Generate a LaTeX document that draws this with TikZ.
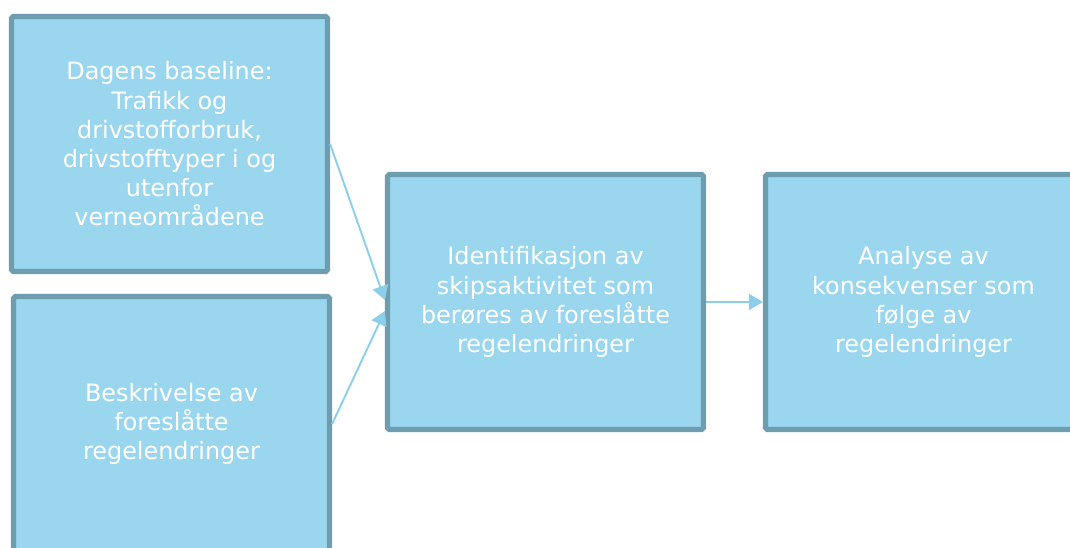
\documentclass[tikz,border=0pt]{standalone}
\usepackage{fontspec}
\setmainfont{DejaVu Sans}
\usepackage{tikz}
\usepackage{xcolor}
\usetikzlibrary{arrows.meta, positioning, calc}
\definecolor{cFill}{RGB}{154,214,238}
\definecolor{cEdge}{RGB}{110,157,176}
\definecolor{cLink}{RGB}{141,207,234}
\tikzset{
	stagebox/.style={rectangle, rounded corners=1pt, minimum width=6.32cm, minimum height=5.1cm, align=center, draw=cEdge, line width=3pt, fill=cFill, text=white, font=\fontsize{13.6}{16.6}\selectfont},
	link/.style={-{Triangle[length=0.28cm, width=0.32cm]}, cLink, line width=1.1pt},
}

\begin{document}
\begin{tikzpicture}[x=0.02cm, y=-0.02cm]
	\clip (0,0) rectangle (1070,547);
	\useasboundingbox (0,0) rectangle (1070,547);
	\node[stagebox] (baseline) at (169.5,144) {Dagens baseline:\\Trafikk og\\drivstofforbruk,\\drivstofftyper i og\\utenfor\\verneområdene};
	\node[stagebox] (regler) at (171.5,424) {Beskrivelse av\\foreslåtte\\regelendringer};
	\node[stagebox] (ident) at (545.5,302) {Identifikasjon av\\skipsaktivitet som\\berøres av foreslåtte\\regelendringer};
	\node[stagebox] (analyse) at (923.5,302) {Analyse av\\konsekvenser som\\følge av\\regelendringer};
	\coordinate (inn1) at ($(ident.west)+(0,-2)$);
	\coordinate (inn2) at ($(ident.west)+(0,9)$);
	\draw[link] (baseline.east) -- (inn1);
	\draw[link] (regler.east) -- (inn2);
	\draw[link] (ident.east) -- (analyse.west);
\end{tikzpicture}
\end{document}
